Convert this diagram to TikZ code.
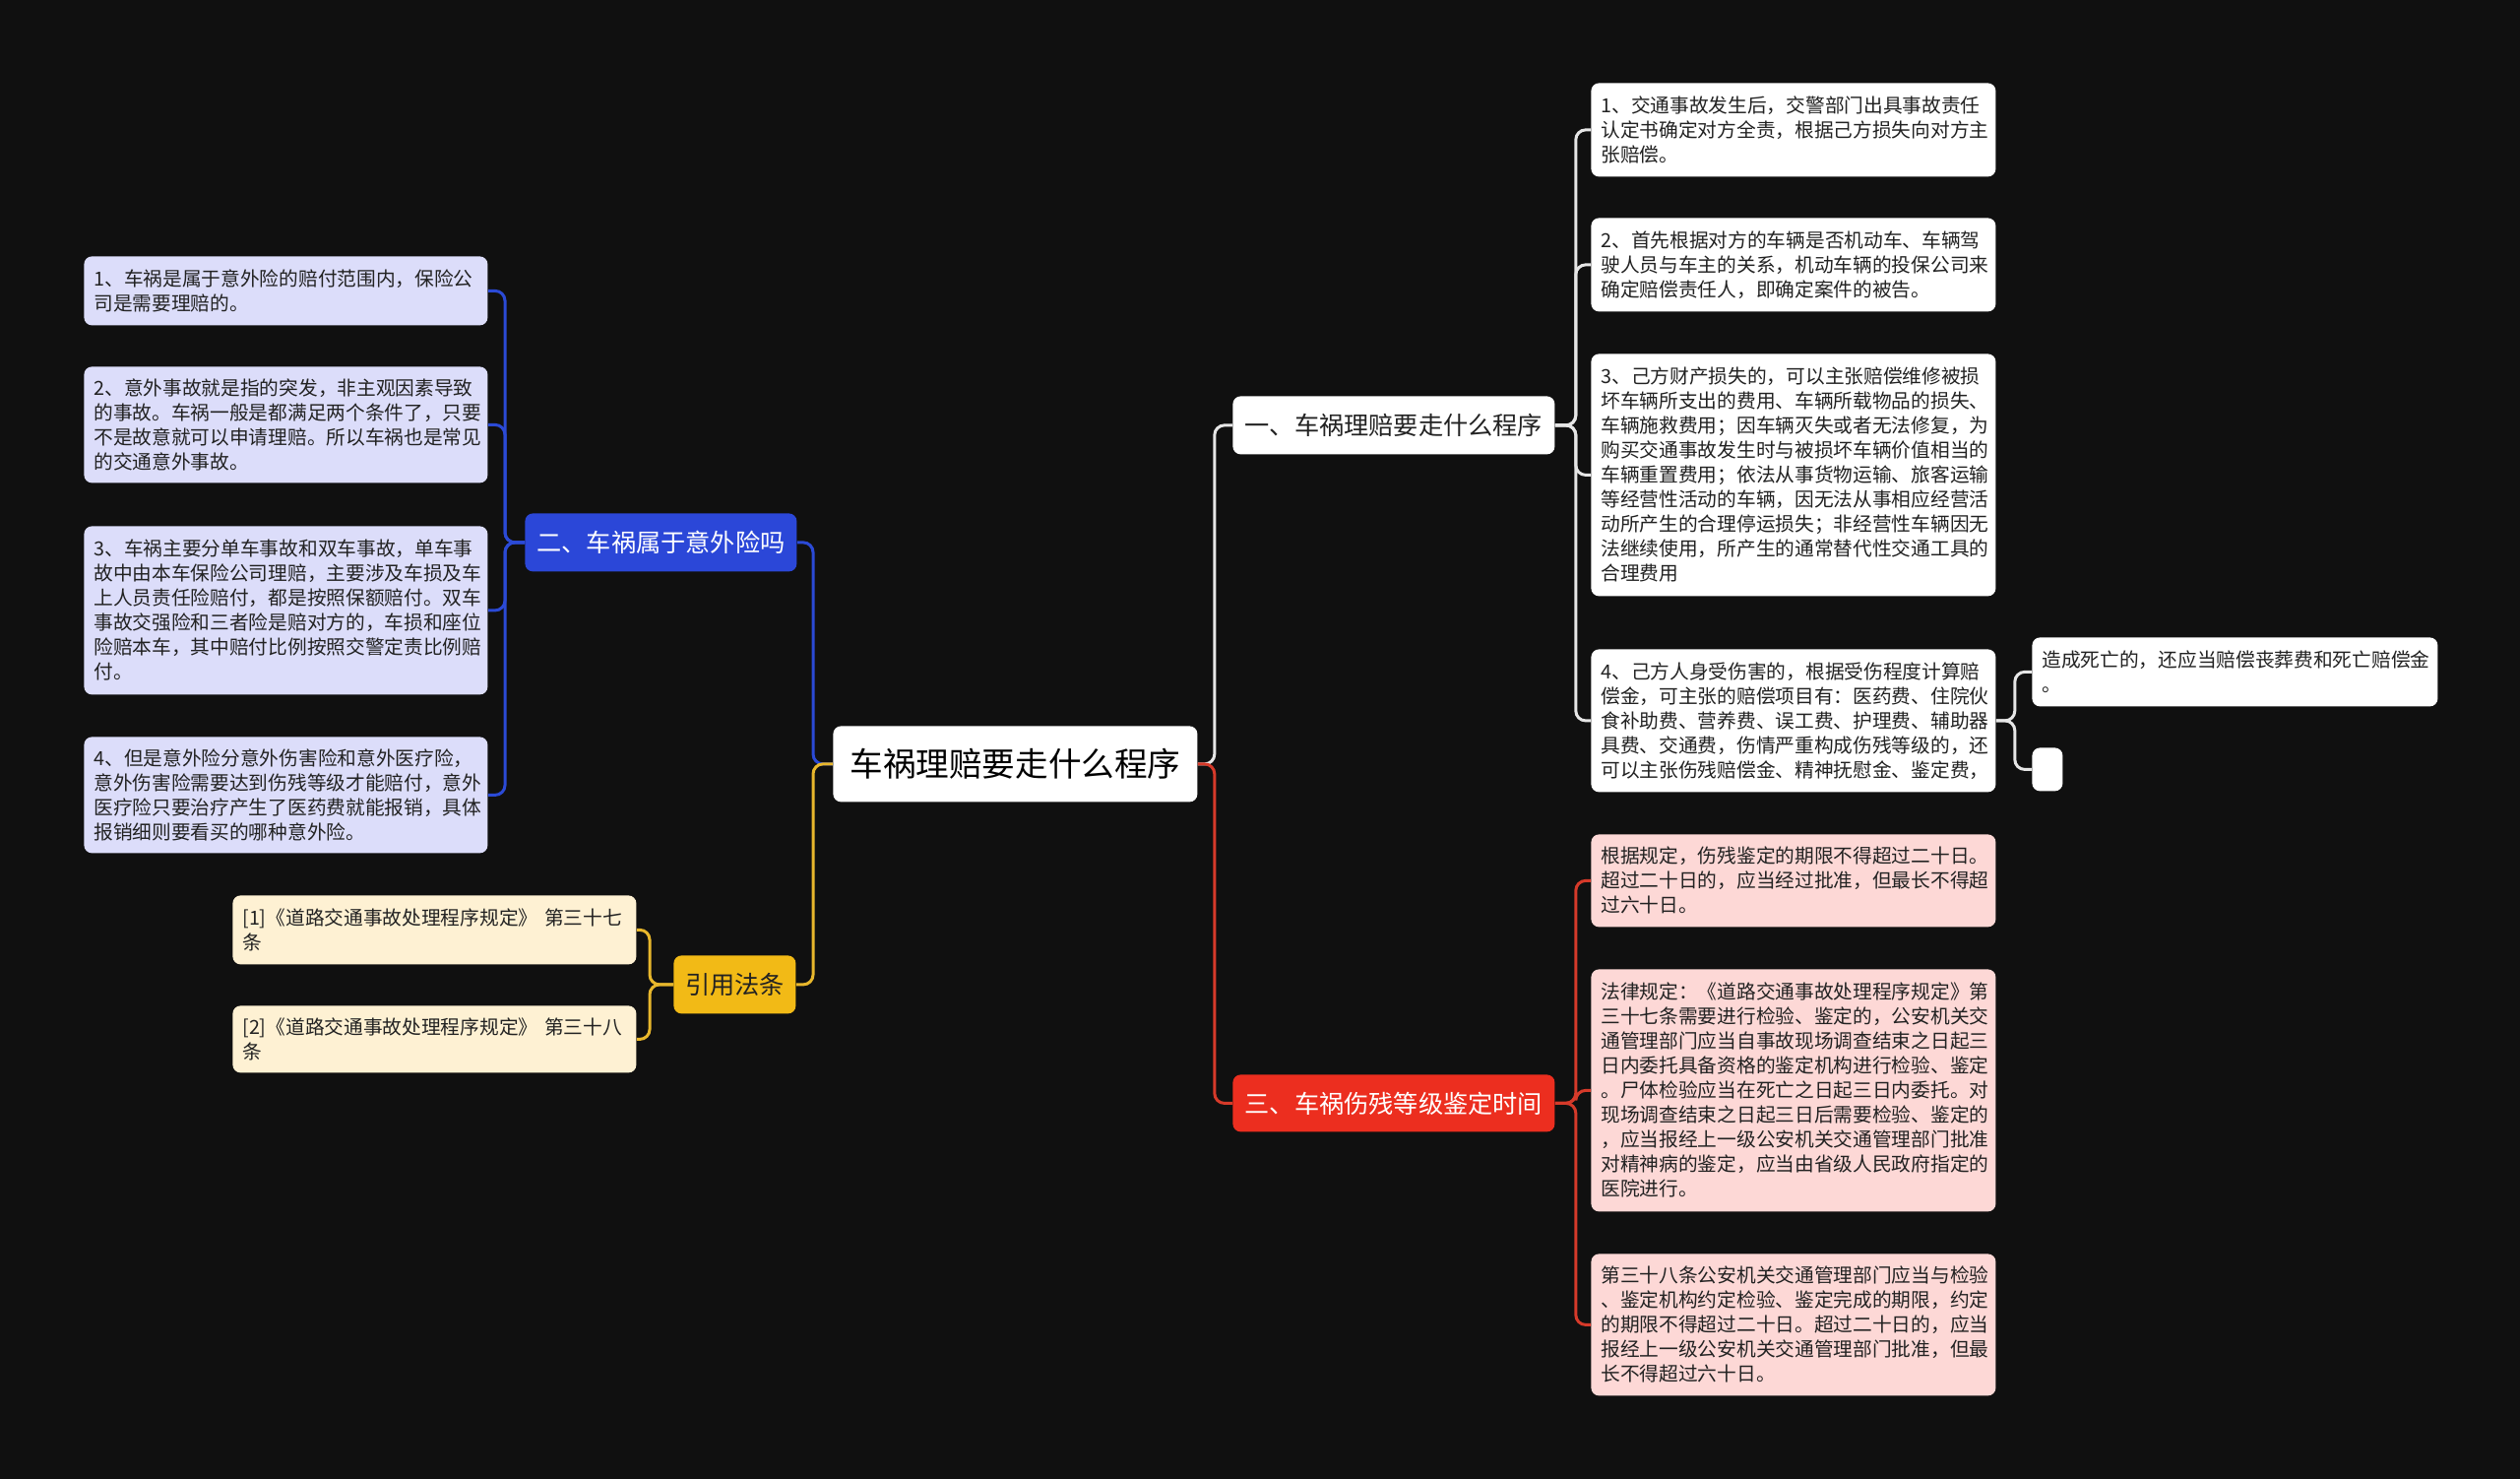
\documentclass[tikz,border=0pt]{standalone}
\usepackage{fontspec}
\setmainfont{Noto Sans CJK SC}
\definecolor{bg}{HTML}{101010}
\definecolor{cwhite}{HTML}{E6E6E6}
\definecolor{cblue}{HTML}{2B4AD6}
\definecolor{cgold}{HTML}{E8B72C}
\definecolor{cred}{HTML}{D63A2A}
\definecolor{fblue}{HTML}{2B47D8}
\definecolor{fgold}{HTML}{F2BA16}
\definecolor{fred}{HTML}{EC2E1F}
\definecolor{flav}{HTML}{DCDDFA}
\definecolor{fcream}{HTML}{FEF1D3}
\definecolor{fpink}{HTML}{FDD8D6}
\definecolor{txt}{HTML}{222222}
\begin{document}
\begin{tikzpicture}[x=0.5pt,y=-0.5pt,
  conn/.style={line width=1.5pt, rounded corners=5pt},
  leaf/.style={rectangle, rounded corners=4pt, inner xsep=5pt, inner ysep=0pt,
    anchor=north west, align=left, text=txt,
    font=\fontsize{9.85pt}{12.5pt}\selectfont},
  leafw/.style={leaf, text width=195.5pt},
  mainbox/.style={rectangle, rounded corners=4pt, inner sep=0pt, anchor=north west,
    align=center, font=\fontsize{12.6pt}{15pt}\selectfont}]
\useasboundingbox (0,0) rectangle (2560,1502);
\fill[bg] (0,0) rectangle (2560,1502);

% main nodes
\node[mainbox, fill=white, text=black, minimum width=185pt, minimum height=38.5pt,
  font=\fontsize{16.8pt}{20pt}\selectfont] (c) at (846,737) {车祸理赔要走什么程序};
\node[mainbox, fill=white, text=txt, minimum width=163.5pt, minimum height=29.5pt] (n1) at (1252,402) {一、车祸理赔要走什么程序};
\node[mainbox, fill=fblue, text=white, minimum width=138pt, minimum height=29.5pt] (n2) at (533,521) {二、车祸属于意外险吗};
\node[mainbox, fill=fred, text=white, minimum width=163.5pt, minimum height=29pt] (n3) at (1252,1091) {三、车祸伤残等级鉴定时间};
\node[mainbox, fill=fgold, text=txt, minimum width=62pt, minimum height=29.5pt] (cite) at (684,970) {引用法条};

% left leaves
\node[leaf, fill=flav, text width=195pt, minimum height=35pt] (l1) at (85,260) {1、车祸是属于意外险的赔付范围内，保险公\\司是需要理赔的。};
\node[leaf, fill=flav, text width=195pt, minimum height=59pt] (l2) at (85,372) {2、意外事故就是指的突发，非主观因素导致\\的事故。车祸一般是都满足两个条件了，只要\\不是故意就可以申请理赔。所以车祸也是常见\\的交通意外事故。};
\node[leaf, fill=flav, text width=195pt, minimum height=85.5pt] (l3) at (85,534) {3、车祸主要分单车事故和双车事故，单车事\\故中由本车保险公司理赔，主要涉及车损及车\\上人员责任险赔付，都是按照保额赔付。双车\\事故交强险和三者险是赔对方的，车损和座位\\险赔本车，其中赔付比例按照交警定责比例赔\\付。};
\node[leaf, fill=flav, text width=195pt, minimum height=59pt] (l4) at (85,748) {4、但是意外险分意外伤害险和意外医疗险，\\意外伤害险需要达到伤残等级才能赔付，意外\\医疗险只要治疗产生了医药费就能报销，具体\\报销细则要看买的哪种意外险。};

\node[leaf, fill=fcream, text width=195pt, minimum height=35pt] (c1) at (236,909) {[1]《道路交通事故处理程序规定》 第三十七\\条};
\node[leaf, fill=fcream, text width=195pt, minimum height=34pt] (c2) at (236,1021) {[2]《道路交通事故处理程序规定》 第三十八\\条};

% right leaves (section one)
\node[leafw, fill=white, minimum height=47.5pt] (r1) at (1616,84) {1、交通事故发生后，交警部门出具事故责任\\认定书确定对方全责，根据己方损失向对方主\\张赔偿。};
\node[leafw, fill=white, minimum height=47.5pt] (r2) at (1616,221) {2、首先根据对方的车辆是否机动车、车辆驾\\驶人员与车主的关系，机动车辆的投保公司来\\确定赔偿责任人，即确定案件的被告。};
\node[leafw, fill=white, minimum height=123pt] (r3) at (1616,359) {3、己方财产损失的，可以主张赔偿维修被损\\坏车辆所支出的费用、车辆所载物品的损失、\\车辆施救费用；因车辆灭失或者无法修复，为\\购买交通事故发生时与被损坏车辆价值相当的\\车辆重置费用；依法从事货物运输、旅客运输\\等经营性活动的车辆，因无法从事相应经营活\\动所产生的合理停运损失；非经营性车辆因无\\法继续使用，所产生的通常替代性交通工具的\\合理费用};
\node[leafw, fill=white, minimum height=72.5pt] (r4) at (1616,659) {4、己方人身受伤害的，根据受伤程度计算赔\\偿金，可主张的赔偿项目有：医药费、住院伙\\食补助费、营养费、误工费、护理费、辅助器\\具费、交通费，伤情严重构成伤残等级的，还\\可以主张伤残赔偿金、精神抚慰金、鉴定费，};
\node[leaf, fill=white, text width=196pt, minimum height=35pt] (d1) at (2064,647) {造成死亡的，还应当赔偿丧葬费和死亡赔偿金\\。};
\node[leaf, fill=white, inner xsep=0pt, minimum width=15.5pt, minimum height=22pt] (d2) at (2064,759) {};

% right leaves (section three)
\node[leafw, fill=fpink, minimum height=47pt] (p1) at (1616,847) {根据规定，伤残鉴定的期限不得超过二十日。\\超过二十日的，应当经过批准，但最长不得超\\过六十日。};
\node[leafw, fill=fpink, minimum height=123pt] (p2) at (1616,984) {法律规定：《道路交通事故处理程序规定》第\\三十七条需要进行检验、鉴定的，公安机关交\\通管理部门应当自事故现场调查结束之日起三\\日内委托具备资格的鉴定机构进行检验、鉴定\\。尸体检验应当在死亡之日起三日内委托。对\\现场调查结束之日起三日后需要检验、鉴定的\\，应当报经上一级公安机关交通管理部门批准\\对精神病的鉴定，应当由省级人民政府指定的\\医院进行。};
\node[leafw, fill=fpink, minimum height=72pt] (p3) at (1616,1273) {第三十八条公安机关交通管理部门应当与检验\\、鉴定机构约定检验、鉴定完成的期限，约定\\的期限不得超过二十日。超过二十日的，应当\\报经上一级公安机关交通管理部门批准，但最\\长不得超过六十日。};

% connectors from centre
\draw[conn, cwhite] (c.east) -- ++(17,0) |- (n1.west);
\draw[conn, cred] (c.east) -- ++(17,0) |- (n3.west);
\draw[conn, cblue] (c.west) -- ++(-20,0) |- (n2.east);
\draw[conn, cgold] (c.west) -- ++(-20,0) |- (cite.east);

% section two
\foreach \l in {l1,l2,l3,l4}
  \draw[conn, cblue] (n2.west) -- ++(-20,0) |- (\l.east);
% citations
\foreach \l in {c1,c2}
  \draw[conn, cgold] (cite.west) -- ++(-24,0) |- (\l.east);
% section one
\foreach \l in {r1,r2,r3,r4}
  \draw[conn, cwhite] (n1.east) -- ++(21,0) |- (\l.west);
\foreach \l in {d1,d2}
  \draw[conn, cwhite] (r4.east) -- ++(19,0) |- (\l.west);
% section three
\foreach \l in {p1,p2,p3}
  \draw[conn, cred] (n3.east) -- ++(21,0) |- (\l.west);
\end{tikzpicture}
\end{document}
